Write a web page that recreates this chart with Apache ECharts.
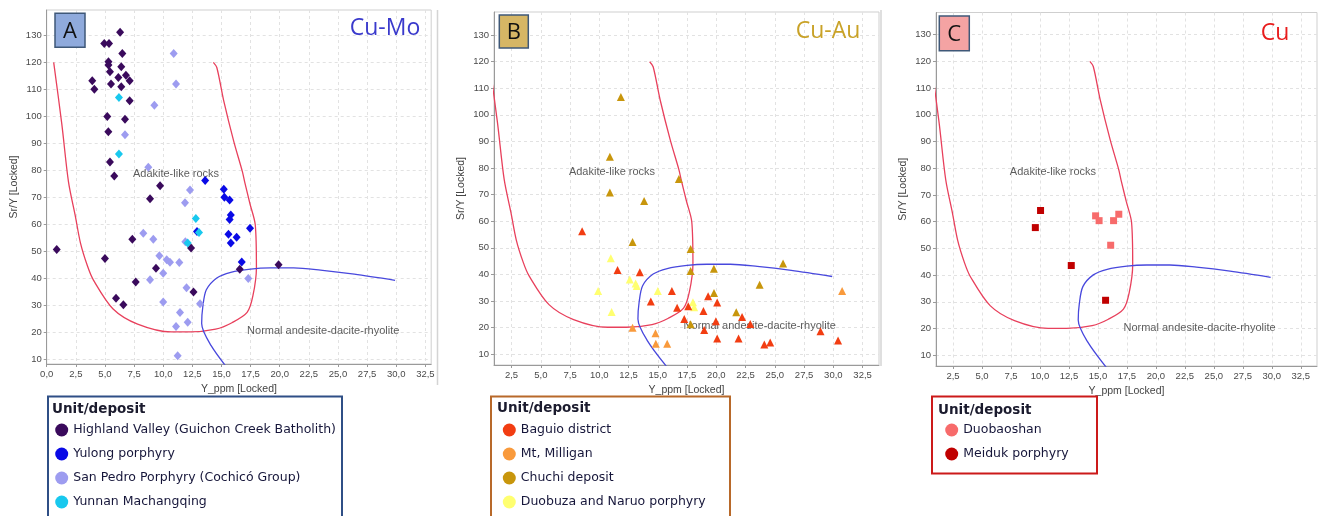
<!DOCTYPE html>
<html>
<head>
<meta charset="utf-8">
<script src="https://cdn.jsdelivr.net/npm/echarts@6/dist/echarts.min.js"></script>
<style>
html, body { margin: 0; padding: 0; background: #fff; }
#chart { width: 1322px; height: 516px; }
</style>
</head>
<body>
<div id="chart"></div>
<script>
// tick labels
var yTicks = [10, 20, 30, 40, 50, 60, 70, 80, 90, 100, 110, 120, 130];
var xTicksA = [0, 2.5, 5, 7.5, 10, 12.5, 15, 17.5, 20, 22.5, 25, 27.5, 30, 32.5];
var xTicksBC = [2.5, 5, 7.5, 10, 12.5, 15, 17.5, 20, 22.5, 25, 27.5, 30, 32.5];

// field boundaries (Y_ppm, Sr/Y)
var adakiteLine = [[0.6, 120], [1.3, 97], [1.87, 75.7], [2.45, 63.2], [2.9, 53], [3.5, 44.5], [4.0, 39.4], [5.7, 28.6],
  [7.8, 23], [10.7, 20.1], [12.3, 20.1], [14.5, 21.1], [15.9, 23.5], [17.2, 27.3], [17.7, 33.5], [18.0, 44],
  [17.9, 59.8], [17.45, 67.5], [17.0, 75.5], [16.8, 79.4], [16.06, 90.6], [15.2, 105.6], [14.6, 118.1], [14.3, 120]];
var normalLine = [[15.9, 4.5], [14.1, 15.1], [13.3, 23.2], [13.4, 29.5], [13.7, 35.7], [14.6, 40.1], [15.8, 42.2],
  [17.5, 43.4], [19.2, 43.8], [21.2, 43.8], [23.5, 43.0], [26.4, 41.5], [29.9, 39.2]];

// A: Cu-Mo
var highlandValley = [[6.3, 131.2], [4.94, 127.0], [5.35, 127.0], [6.49, 123.3], [5.3, 120.2], [5.3, 119.0], [6.4, 118.4],
  [5.43, 116.5], [6.15, 114.4], [6.8, 115.2], [7.12, 113.2], [3.91, 113.2], [5.52, 112.0], [6.4, 111.0], [4.09, 110.0],
  [7.12, 105.8], [5.2, 99.9], [6.72, 98.9], [5.29, 94.3], [5.43, 83.1], [5.8, 77.9], [9.73, 74.3], [8.87, 69.4],
  [0.86, 50.6], [5.0, 47.3], [7.35, 54.4], [9.38, 43.7], [12.39, 51.2], [7.64, 38.6], [5.95, 32.6], [6.58, 30.2],
  [12.6, 34.9], [16.57, 43.3], [19.9, 45.0]];
var yulong = [[13.6, 76.2], [15.2, 73.0], [15.25, 70.0], [15.7, 69.0], [15.8, 63.4], [15.7, 61.8], [17.45, 58.5],
  [12.9, 57.3], [15.6, 56.3], [16.3, 55.2], [15.8, 53.0], [16.74, 46.0]];
var sanPedro = [[10.9, 123.3], [11.1, 112.0], [9.24, 104.1], [6.72, 93.2], [8.72, 81.1], [12.3, 72.7], [11.87, 68.0],
  [8.29, 56.7], [9.15, 54.4], [9.67, 48.3], [10.3, 46.8], [10.58, 45.9], [11.38, 45.8], [10.0, 41.8], [8.87, 39.4],
  [12.0, 36.5], [10.0, 31.2], [13.16, 30.5], [11.44, 27.3], [12.1, 23.7], [11.1, 22.1], [11.24, 11.3], [17.3, 39.9],
  [11.9, 53.5]];
var yunnan = [[6.2, 107.0], [6.2, 86.0], [12.8, 62.1], [13.07, 56.9], [12.1, 53.0]];

// B: Cu-Au
var baguio = [[8.53, 56.2], [11.56, 41.6], [13.46, 40.8], [16.2, 33.7], [14.4, 29.8], [19.3, 31.8], [20.07, 29.4],
  [16.65, 27.4], [17.6, 28.0], [18.9, 26.2], [22.2, 24.0], [17.26, 23.2], [19.96, 22.4], [22.9, 21.3], [18.96, 19.1],
  [28.9, 18.6], [20.07, 15.9], [21.9, 15.9], [30.4, 15.1], [24.1, 13.6], [24.6, 14.4]];
var milligan = [[30.75, 33.7], [12.84, 19.9], [14.8, 17.8], [14.83, 13.9], [15.8, 13.9]];
var chuchi = [[11.84, 106.7], [10.9, 84.2], [16.8, 75.9], [10.9, 70.8], [13.83, 67.6], [12.84, 52.2], [17.8, 49.5],
  [17.8, 41.3], [19.79, 42.1], [25.7, 44.1], [23.7, 36.1], [19.8, 33.0], [21.7, 25.7], [17.8, 21.2]];
var duobuza = [[10.98, 46.1], [12.6, 38.1], [13.1, 36.6], [13.2, 35.6], [9.9, 33.7], [15.0, 33.7], [18.0, 29.5],
  [18.1, 27.6], [11.05, 25.8]];

// C: Cu
var duobaoshan = [[14.8, 62.2], [15.1, 60.4], [16.35, 60.4], [16.8, 62.8], [16.1, 51.2]];
var meiduk = [[9.6, 57.8], [10.05, 64.2], [12.7, 43.6], [15.66, 30.6]];

var fieldNames = [[7.4, 78.6, 'Adakite-like rocks'], [17.2, 20.4, 'Normal andesite-dacite-rhyolite']];

var AX = '#9a9a9a';
var tickFont = 'Liberation Sans';

function xAxisFor(i, min, max, ticks) {
  return {
    gridIndex: i, type: 'value', min: min, max: max,
    name: 'Y_ppm [Locked]', nameLocation: 'middle', nameGap: 20,
    nameTextStyle: { fontSize: 10.5, color: '#444', fontFamily: tickFont },
    axisLine: { show: true, onZero: false, lineStyle: { color: AX } },
    axisTick: { show: true, length: 3, customValues: ticks, lineStyle: { color: AX } },
    axisLabel: { customValues: ticks, fontSize: 9.5, color: '#4a4a4a', margin: 5, fontFamily: tickFont,
      formatter: function (v) { return v.toFixed(1).replace('.', ','); } },
    splitLine: { show: true, lineStyle: { color: '#e2e2e2', type: [3, 3] } }
  };
}
function yAxisFor(i, min, max) {
  return {
    gridIndex: i, type: 'value', min: min, max: max,
    name: 'Sr/Y [Locked]', nameLocation: 'middle', nameGap: 27,
    nameTextStyle: { fontSize: 10.5, color: '#444', fontFamily: tickFont },
    axisLine: { show: true, onZero: false, lineStyle: { color: AX } },
    axisTick: { show: true, length: 3, customValues: yTicks, lineStyle: { color: AX } },
    axisLabel: { customValues: yTicks, fontSize: 9.5, color: '#4a4a4a', margin: 5, fontFamily: tickFont },
    splitLine: { show: true, lineStyle: { color: '#e2e2e2', type: [3, 3] } }
  };
}

function pts(name, i, data, symbol, size, color) {
  return { name: name, type: 'scatter', xAxisIndex: i, yAxisIndex: i, data: data, symbol: symbol,
    symbolSize: size, itemStyle: { color: color, opacity: 1 }, z: 5 };
}
function curve(i, data, color) {
  return { type: 'line', xAxisIndex: i, yAxisIndex: i, data: data, showSymbol: false, smooth: 0.3, clip: true,
    lineStyle: { color: color, width: 1.3 }, z: 3, silent: true };
}
function labels(i) {
  return { type: 'scatter', xAxisIndex: i, yAxisIndex: i, data: fieldNames, symbolSize: 0.01, silent: true,
    itemStyle: { color: 'rgba(0,0,0,0)' }, z: 4,
    label: { show: true, position: 'right', distance: 0, fontSize: 11, color: '#333', fontFamily: tickFont,
      formatter: function (p) { return p.value[2]; } } };
}

var series = [];
for (var g = 0; g < 3; g++) {
  series.push(curve(g, adakiteLine, '#e8405c'));
  series.push(curve(g, normalLine, '#4848dd'));
  series.push(labels(g));
}
var dia = [8, 9];
series.push(pts('Highland Valley (Guichon Creek Batholith)', 0, highlandValley, 'diamond', dia, '#3a0a5c'));
series.push(pts('San Pedro Porphyry (Cochicó Group)', 0, sanPedro, 'diamond', dia, '#9d9cf0'));
series.push(pts('Yulong porphyry', 0, yulong, 'diamond', dia, '#0a0ae6'));
series.push(pts('Yunnan Machangqing', 0, yunnan, 'diamond', dia, '#18c8ee'));
series.push(pts('Duobuza and Naruo porphyry', 1, duobuza, 'triangle', 8, '#ffff70'));
series.push(pts('Chuchi deposit', 1, chuchi, 'triangle', 8, '#c8960c'));
series.push(pts('Mt, Milligan', 1, milligan, 'triangle', 8, '#f99a3c'));
series.push(pts('Baguio district', 1, baguio, 'triangle', 8, '#f23d12'));
series.push(pts('Duobaoshan', 2, duobaoshan, 'rect', 7, '#f76b6b'));
series.push(pts('Meiduk porphyry', 2, meiduk, 'rect', 7, '#c00000'));

function legendFor(left, names) {
  return { data: names, orient: 'vertical', left: left, top: 423.5, itemGap: 11, itemWidth: 13, itemHeight: 13,
    icon: 'circle', selectedMode: false, padding: 0,
    textStyle: { fontSize: 12.5, color: '#16163a', fontFamily: 'DejaVu Sans' } };
}

function tag(x, y, w, h, fill, letter) {
  return { type: 'group', z: 100, children: [
    { type: 'rect', z: 100, shape: { x: x, y: y, width: w, height: h }, style: { fill: fill, stroke: '#3f5878', lineWidth: 1.5 } },
    { type: 'text', z: 101, x: x + w / 2, y: y + h / 2 + 1, style: { text: letter, fontSize: 22, fill: '#111', fontFamily: 'Open Sans',
      align: 'center', verticalAlign: 'middle' } }
  ] };
}
function box(x, y, w, h, stroke) {
  return { type: 'rect', z: 100, shape: { x: x, y: y, width: w, height: h }, style: { fill: 'none', stroke: stroke, lineWidth: 2 } };
}
function head(x, y) {
  return { type: 'text', z: 100, x: x, y: y, style: { text: 'Unit/deposit', fontSize: 13.5, fontWeight: 'bold', fill: '#1b1b2e',
    fontFamily: 'DejaVu Sans', verticalAlign: 'middle' } };
}
function big(x, y, text, color) {
  return { type: 'text', z: 100, x: x, y: y, style: { text: text, fontSize: 23, fill: color, fontFamily: 'Open Sans',
    align: 'center', verticalAlign: 'middle' } };
}

var option = {
  animation: false,
  backgroundColor: '#fff',
  grid: [
    { left: 46.7, top: 10, width: 384.5, height: 354, show: true, borderColor: '#cfcfcf', borderWidth: 1, outerBoundsMode: 'none' },
    { left: 494, top: 12, width: 385, height: 353, show: true, borderColor: '#cfcfcf', borderWidth: 1, outerBoundsMode: 'none' },
    { left: 936, top: 12.5, width: 381, height: 353.5, show: true, borderColor: '#cfcfcf', borderWidth: 1, outerBoundsMode: 'none' }
  ],
  xAxis: [xAxisFor(0, 0, 33, xTicksA), xAxisFor(1, 1.0, 33.9, xTicksBC), xAxisFor(2, 1.03, 33.9, xTicksBC)],
  yAxis: [yAxisFor(0, 8.2, 139.4), yAxisFor(1, 5.9, 138.7), yAxisFor(2, 6.0, 138.3)],
  legend: [
    legendFor(55.2, ['Highland Valley (Guichon Creek Batholith)', 'Yulong porphyry', 'San Pedro Porphyry (Cochicó Group)', 'Yunnan Machangqing']),
    legendFor(502.8, ['Baguio district', 'Mt, Milligan', 'Chuchi deposit', 'Duobuza and Naruo porphyry']),
    legendFor(945.2, ['Duobaoshan', 'Meiduk porphyry'])
  ],
  graphic: [
    { type: 'line', z: 100, shape: { x1: 437.5, y1: 10, x2: 437.5, y2: 385 }, style: { stroke: '#d4d4d4', lineWidth: 1.5 } },
    { type: 'line', z: 100, shape: { x1: 881, y1: 10, x2: 881, y2: 366 }, style: { stroke: '#d4d4d4', lineWidth: 1.5 } },
    tag(55, 13.3, 30, 34, '#8faadc', 'A'),
    tag(499.3, 15, 29, 33, '#d6b665', 'B'),
    tag(939.3, 16, 30, 34.7, '#f4a3a3', 'C'),
    big(385, 28, 'Cu-Mo', '#3a3acc'),
    big(828, 31, 'Cu-Au', '#c9a227'),
    big(1275, 33, 'Cu', '#e81c1c'),
    box(48, 396.5, 294, 130, '#2f4f86'),
    box(491, 396.5, 239, 130, '#b8692a'),
    box(932, 396.5, 165, 77, '#cc1a1a'),
    head(52, 409),
    head(497, 408.5),
    head(938, 410)
  ],
  series: series
};

var chart = echarts.init(document.getElementById('chart'));
chart.setOption(option);
</script>
</body>
</html>
